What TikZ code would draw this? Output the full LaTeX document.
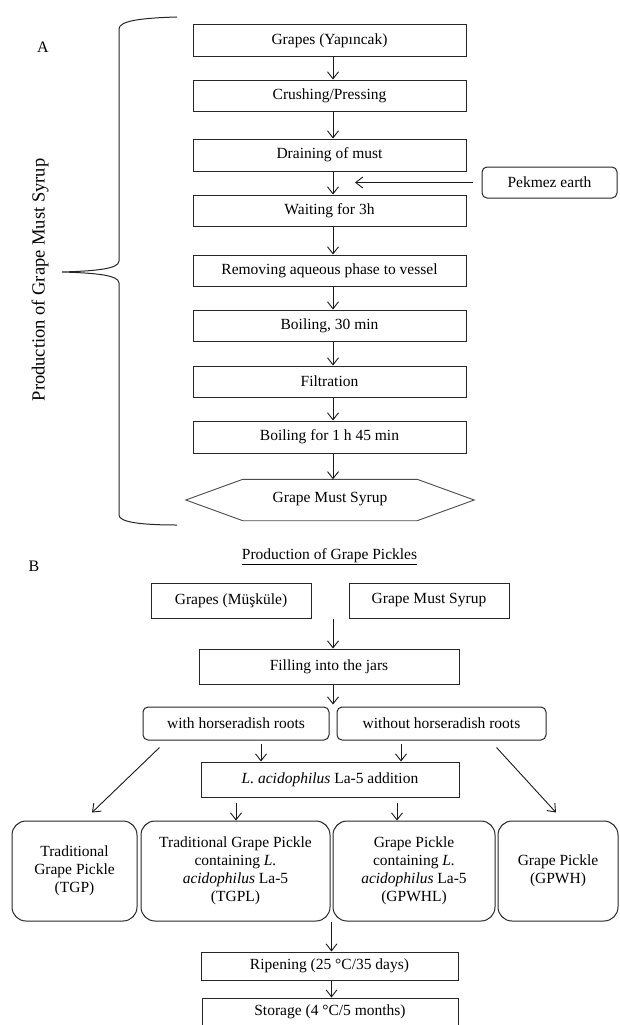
\documentclass[tikz,border=0pt]{standalone}
\usepackage{fontspec}
\setmainfont{Liberation Serif}
\usetikzlibrary{arrows.meta}
\begin{document}
\begin{tikzpicture}[x=1pt,y=-1pt,
  every node/.style={font=\fontsize{15.5}{18}\selectfont, inner sep=0pt, align=center},
  box/.style={draw=black!85, line width=1pt, rectangle},
  rbox/.style={draw=black!85, line width=1pt, rectangle, rounded corners=5pt},
  bigbox/.style={draw=black!85, line width=1pt, rectangle, rounded corners=14pt},
  arr/.style={draw=black!90, line width=0.9pt, -{Straight Barb[length=7pt,width=11pt,line width=0.9pt]}},
  lbl/.style={font=\fontsize{16}{18}\selectfont}
]
\useasboundingbox (0,0) rectangle (619,1025);
\fill[white] (0,0) rectangle (619,1025);

% ---------- Part A ----------
\node[lbl] (la) at (43,47) {A};
\node[font=\fontsize{18.5}{20}\selectfont, rotate=90] (ptitle) at (40,280) {Production of Grape Must Syrup};
\draw[black!85, line width=1pt] (177,17) .. controls (140,18) and (119,21) .. (119,29) -- (119,261)
  .. controls (119,269) and (95,271) .. (62,272)
  .. controls (95,273) and (119,275) .. (119,283) -- (119,515)
  .. controls (119,522) and (140,525) .. (177,525);

\node[box, minimum width=273pt, minimum height=32pt] (b1) at (329.5,41) {Grapes (Yapıncak)};
\node[box, minimum width=273pt, minimum height=31pt] (b2) at (329.5,95.5) {Crushing/Pressing};
\node[box, minimum width=273pt, minimum height=32pt] (b3) at (329.5,155) {Draining of must};
\node[box, minimum width=273pt, minimum height=31pt] (b4) at (329.5,210.5) {Waiting for 3h};
\node[box, minimum width=273pt, minimum height=31pt] (b5) at (329.5,270.5) {Removing aqueous phase to vessel};
\node[box, minimum width=273pt, minimum height=31pt] (b6) at (329.5,325.5) {Boiling, 30 min};
\node[box, minimum width=273pt, minimum height=31pt] (b7) at (329.5,381.5) {Filtration};
\node[box, minimum width=273pt, minimum height=32pt] (b8) at (329.5,437) {Boiling for 1 h 45 min};
\node[minimum width=288pt, minimum height=41pt] (hex) at (330,500) {\raisebox{5pt}{Grape Must Syrup}};
\draw[black!70, line width=0.9pt] (hex.west) -- ([xshift=57pt]hex.north west) -- ([xshift=-57pt]hex.north east)
  -- (hex.east) -- ([xshift=-57pt]hex.south east) -- ([xshift=57pt]hex.south west) -- cycle;

\node[rbox, minimum width=135pt, minimum height=31pt] (pek) at (549.5,182.5) {Pekmez earth};

\coordinate (ax) at (333,0);
\coordinate (pkend) at (355,0);
\draw[arr] (b1.south -| ax) -- (b2.north -| ax);
\draw[arr] (b2.south -| ax) -- (b3.north -| ax);
\draw[arr] (b3.south -| ax) -- (b4.north -| ax);
\draw[arr] (b4.south -| ax) -- (b5.north -| ax);
\draw[arr] (b5.south -| ax) -- (b6.north -| ax);
\draw[arr] (b6.south -| ax) -- (b7.north -| ax);
\draw[arr] (b7.south -| ax) -- (b8.north -| ax);
\draw[arr] (b8.south -| ax) -- (hex.north -| ax);
\draw[arr, shorten <=9pt] (pek.west) -- (pek.west -| pkend);

% ---------- Part B ----------
\node[lbl] (lb) at (34,566) {B};
\node (btitle) at (329.5,557) {\underline{Production of Grape Pickles}};

\node[box, minimum width=160pt, minimum height=35pt] (g1) at (231,600.5) {Grapes (Müşküle)};
\node[box, minimum width=160pt, minimum height=35pt] (g2) at (429,600.5) {Grape Must Syrup};
\node[box, minimum width=260pt, minimum height=35pt] (fill) at (329,666.5) {Filling into the jars};
\node[rbox, minimum width=186pt, minimum height=33pt] (with) at (236,723.5) {with horseradish roots};
\node[rbox, minimum width=209pt, minimum height=33pt] (without) at (441.5,723.5) {without horseradish roots};
\node[box, minimum width=258pt, minimum height=35pt] (lac) at (330,779.5) {\textit{L. acidophilus} La-5 addition};

\node[bigbox, minimum width=125pt, minimum height=100pt] (tgp) at (74.5,871) {Traditional\\Grape Pickle\\(TGP)};
\node[bigbox, minimum width=189pt, minimum height=100pt] (tgpl) at (235.5,871) {Traditional Grape Pickle\\containing \textit{L.}\\\textit{acidophilus} La-5\\(TGPL)};
\node[bigbox, minimum width=162pt, minimum height=100pt] (gpwhl) at (414,871) {Grape Pickle\\containing \textit{L.}\\\textit{acidophilus} La-5\\(GPWHL)};
\node[bigbox, minimum width=120pt, minimum height=100pt] (gpwh) at (558,871) {Grape Pickle\\(GPWH)};

\node[box, minimum width=257pt, minimum height=28pt] (rip) at (329.5,966) {Ripening (25 °C/35 days)};
\node[box, minimum width=256pt, minimum height=28pt] (sto) at (330,1012) {Storage (4 °C/5 months)};

\coordinate (bx) at (333,0);
\coordinate (d1) at (261,0);
\coordinate (d2) at (401,0);
\coordinate (d3) at (236,0);
\coordinate (d4) at (397,0);
\coordinate (cx) at (331.5,0);
\draw[arr] (g1.south -| bx) -- (fill.north -| bx);
\draw[arr] (fill.south -| bx) -- ([yshift=2pt]with.north -| bx);
\draw[arr] ([xshift=17pt,yshift=-7pt]with.south west) -- ([xshift=17.5pt,yshift=8pt]tgp.north);
\draw[arr] ([xshift=-50pt,yshift=-7pt]without.south east) -- ([xshift=-2pt,yshift=8pt]gpwh.north);
\draw[arr, shorten <=3pt] (with.south -| d1) -- (lac.north -| d1);
\draw[arr, shorten <=3pt] (without.south -| d2) -- (lac.north -| d2);
\draw[arr, shorten <=5pt] (lac.south -| d3) -- (tgpl.north -| d3);
\draw[arr, shorten <=5pt] (lac.south -| d4) -- (gpwhl.north -| d4);
\draw[arr] (tgpl.south -| cx) -- (rip.north -| cx);
\draw[arr] (rip.south -| cx) -- (sto.north -| cx);
\end{tikzpicture}
\end{document}
